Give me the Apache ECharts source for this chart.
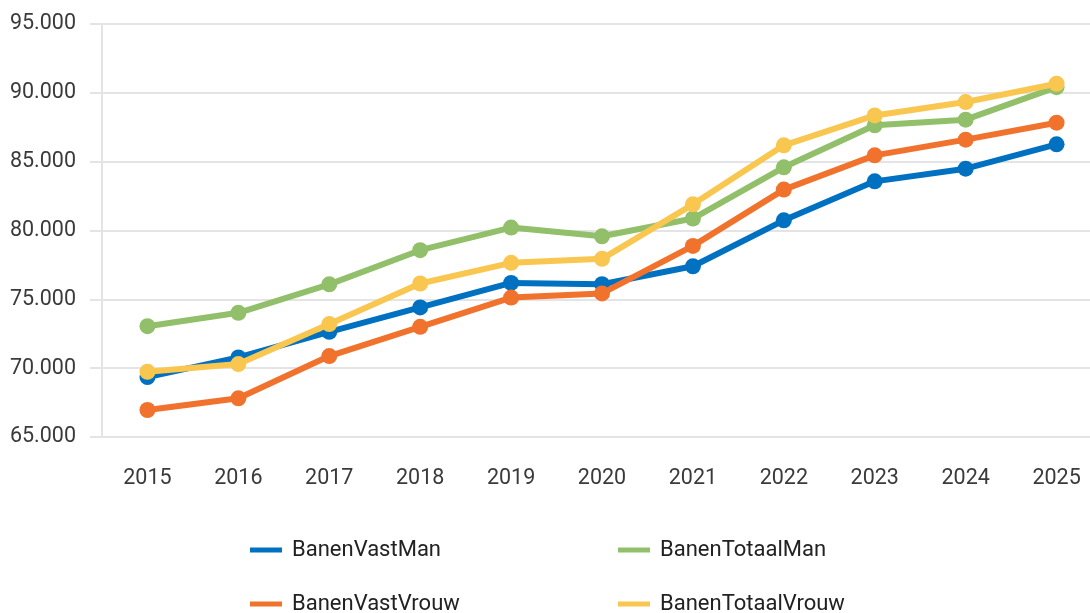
<!DOCTYPE html>
<html style="height: 100%">
<head>
    <meta charset="utf-8">
</head>
<body style="height: 100%; margin: 0; background: #fff">
<div id="container" style="height: 100%"></div>
<script src="https://cdn.jsdelivr.net/npm/echarts@6/dist/echarts.min.js"></script>
<script type="text/javascript">
    var years = ['2015', '2016', '2017', '2018', '2019', '2020', '2021', '2022', '2023', '2024', '2025'];
    var banenVastMan = [69350, 70780, 72640, 74410, 76190, 76100, 77400, 80740, 83570, 84490, 86260];
    var banenTotaalMan = [73050, 74020, 76090, 78570, 80210, 79580, 80870, 84590, 87640, 88050, 90410];
    var banenVastVrouw = [66960, 67810, 70880, 73000, 75130, 75430, 78880, 82970, 85460, 86600, 87830];
    var banenTotaalVrouw = [69740, 70300, 73200, 76150, 77650, 77940, 81900, 86190, 88360, 89330, 90660];
    var seriesNames = ['BanenVastMan', 'BanenTotaalMan', 'BanenVastVrouw', 'BanenTotaalVrouw'];
    var colors = ['#0070c0', '#92bf6a', '#f0722c', '#f9c74f'];

    var dom = document.getElementById("container");
    var myChart = echarts.init(dom);

    var font = 'Roboto';
    var gridColor = '#e4e4e6';

    // one legend per item so each can sit exactly where the original has it
    function legendAt(name, left, top) {
        return {
            data: [name],
            left: left,
            top: top,
            padding: 0,
            icon: 'rect',
            itemWidth: 32,
            itemHeight: 5,
            selectedMode: false,
            textStyle: {fontFamily: font, fontSize: 22, color: '#222', padding: [0, 0, 0, 5]}
        };
    }

    function makeSeries(i, data) {
        return {
            name: seriesNames[i],
            type: 'line',
            data: data,
            symbol: 'circle',
            symbolSize: 16,
            color: colors[i],
            lineStyle: {width: 6},
            z: 2 + i
        };
    }

    var option = {
        backgroundColor: '#fff',
        animation: false,
        color: colors,
        // the plot runs a little past the right edge of the canvas
        grid: {left: 102, width: 1000, top: 24, bottom: 176, containLabel: false, outerBoundsMode: 'none'},
        legend: [
            legendAt('BanenVastMan', 250, 539),
            legendAt('BanenTotaalMan', 618, 539),
            legendAt('BanenVastVrouw', 250, 593),
            legendAt('BanenTotaalVrouw', 618, 593)
        ],
        xAxis: {
            type: 'category',
            data: years,
            boundaryGap: true,
            axisLine: {lineStyle: {color: gridColor, width: 2}},
            axisTick: {alignWithLabel: true, length: 9, lineStyle: {color: gridColor, width: 2}},
            axisLabel: {fontFamily: font, fontSize: 21.5, color: '#3a3a3a', margin: 31}
        },
        yAxis: {
            type: 'value',
            min: 65000,
            max: 95000,
            interval: 5000,
            axisLine: {show: true, lineStyle: {color: gridColor, width: 2}},
            axisTick: {show: true, length: 12, lineStyle: {color: gridColor, width: 2}},
            splitLine: {lineStyle: {color: gridColor, width: 2}},
            axisLabel: {
                fontFamily: font, fontSize: 21.5, color: '#3a3a3a', margin: 26,
                formatter: function (v) {
                    return String(v).replace(/\B(?=(\d{3})+(?!\d))/g, '.');
                }
            }
        },
        series: [
            makeSeries(0, banenVastMan),
            makeSeries(1, banenTotaalMan),
            makeSeries(2, banenVastVrouw),
            makeSeries(3, banenTotaalVrouw)
        ]
    };

    if (option && typeof option === 'object') {
        myChart.setOption(option);
    }
</script>
</body>
</html>
